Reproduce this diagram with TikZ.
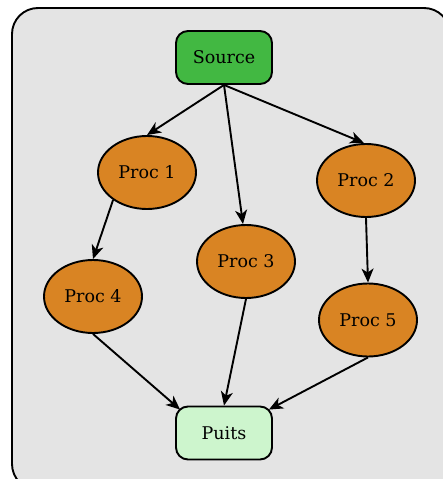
\documentclass[tikz,border=0pt]{standalone}
\usepackage{fontspec}
\setmainfont{DejaVu Serif}
\usetikzlibrary{arrows.meta,shapes.geometric}
\definecolor{bggray}{HTML}{E4E4E4}
\definecolor{srcgreen}{HTML}{42B842}
\definecolor{sinkgreen}{HTML}{CDF5CD}
\definecolor{procorange}{HTML}{D98423}
\begin{document}
\begin{tikzpicture}[x=1pt,y=-1pt,
  boxnode/.style={draw=black,line width=1.9pt,rounded corners=12pt,minimum width=96pt,minimum height=53pt,inner sep=0pt,font=\fontsize{17.5}{20}\selectfont},
  procnode/.style={ellipse,draw=black,line width=1.9pt,fill=procorange,minimum width=98pt,minimum height=73pt,inner sep=0pt,font=\fontsize{17.5}{20}\selectfont},
  edge/.style={line width=1.9pt,-{Stealth[length=14pt,width=12pt,inset=4pt]}}]
\useasboundingbox (0,0) rectangle (443,479);
\begin{scope}
\clip (0,0) rectangle (443,479);
\draw[line width=1.9pt,fill=bggray,rounded corners=26pt] (12,8) rectangle (450,490);
\end{scope}
\node[boxnode,fill=srcgreen] (src) at (224,57.5) {Source};
\node[boxnode,fill=sinkgreen] (pu) at (224,433) {Puits};
\node[procnode] (p1) at (147,172.5) {Proc 1};
\node[procnode] (p2) at (366,180.5) {Proc 2};
\node[procnode] (p3) at (246,261.5) {Proc 3};
\node[procnode] (p4) at (93,296.5) {Proc 4};
\node[procnode] (p5) at (368,320) {Proc 5};
\draw[edge] (src.south) -- (p1.north);
\draw[edge] (src.south) -- ([xshift=-3pt]p3.north);
\draw[edge] (src.south) -- ([xshift=-2pt]p2.north);
\draw[edge] (p1.219) -- (p4.north);
\draw[edge] (p2.south) -- (p5.north);
\draw[edge] (p4.south) -- ([xshift=5pt,yshift=-4pt]pu.north west);
\draw[edge] (p3.south) -- (pu.north);
\draw[edge] (p5.south) -- ([xshift=-4pt,yshift=-4pt]pu.north east);
\end{tikzpicture}
\end{document}
